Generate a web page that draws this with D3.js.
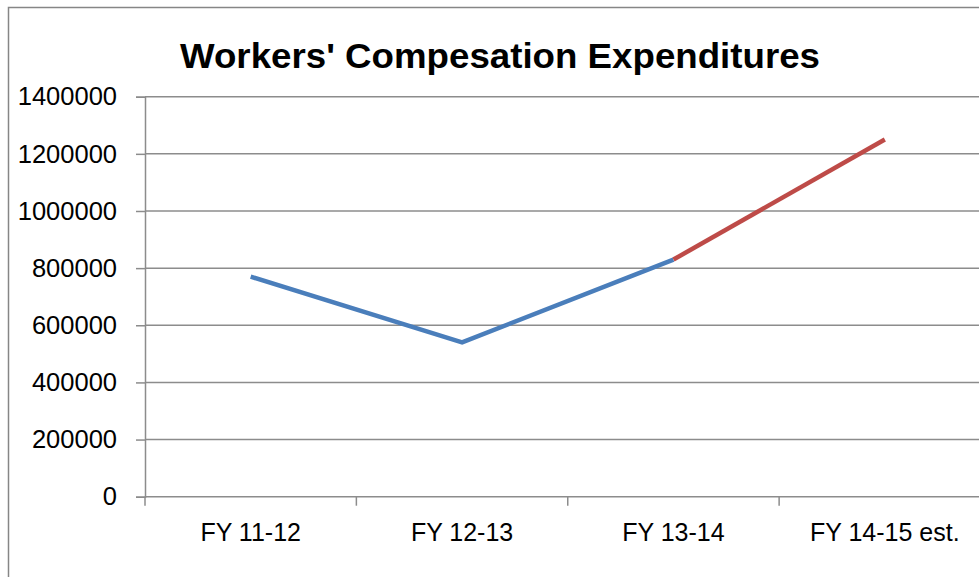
<!DOCTYPE html>
<html><head><meta charset="utf-8">
<script src="https://cdn.jsdelivr.net/npm/d3@7"></script>
<style>body{margin:0;background:#fff}svg{display:block}</style>
</head><body>
<svg id="c" width="979" height="577"></svg>
<script>
const categories = ["FY 11-12", "FY 12-13", "FY 13-14", "FY 14-15 est."];
const actualValues = [770000, 540000, 830000, null];
const estimateValues = [null, null, 830000, 1250000];
const yTicks = [0, 200000, 400000, 600000, 800000, 1000000, 1200000, 1400000];
const titleText = "Workers' Compesation Expenditures";

(function () {
const svg = d3.select("#c");
const pLeft = 145, pRight = 990.5, pTop = 96.7, pBottom = 496.7;
const font = "'Liberation Sans', Arial, sans-serif";

svg.append("rect").attr("x", 8.5).attr("y", 7.5).attr("width", 1000).attr("height", 600)
  .attr("fill", "#fff").attr("stroke", "#868686").attr("stroke-width", 1.5);

const x = d3.scaleBand().domain(categories).range([pLeft, pRight]).padding(0);
const y = d3.scaleLinear().domain([0, 1400000]).range([pBottom, pTop]);

// gridlines
svg.append("g").selectAll("line").data(yTicks).join("line")
  .attr("x1", pLeft).attr("x2", pRight)
  .attr("y1", d => y(d)).attr("y2", d => y(d))
  .attr("stroke", "#8c8c8c").attr("stroke-width", 1.5);

// y axis
const ya = svg.append("g").attr("transform", `translate(${pLeft},0)`)
  .call(d3.axisLeft(y).tickValues(yTicks).tickSize(9).tickPadding(19).tickFormat(d3.format("d")));
ya.select(".domain").attr("stroke", "#8c8c8c").attr("stroke-width", 1.5);
ya.selectAll(".tick line").attr("stroke", "#8c8c8c").attr("stroke-width", 1.5);
ya.selectAll("text").attr("font-family", font).attr("font-size", 25.5).attr("fill", "#000");

// x axis
const xa = svg.append("g").attr("transform", `translate(0,${pBottom})`)
  .call(d3.axisBottom(x).tickSize(0).tickPadding(27));
xa.select(".domain").remove();
xa.selectAll("text").attr("font-family", font).attr("font-size", 25).attr("fill", "#000");
// category boundary ticks
const bounds = categories.map(c => x(c)).concat([x(categories[categories.length-1]) + x.bandwidth()]);
svg.append("g").selectAll("line").data(bounds).join("line")
  .attr("x1", d => d).attr("x2", d => d).attr("y1", pBottom).attr("y2", pBottom + 9)
  .attr("stroke", "#8c8c8c").attr("stroke-width", 1.5);

const cx = c => x(c) + x.bandwidth() / 2;
const line = d3.line().defined(d => d[1] != null).x(d => cx(d[0])).y(d => y(d[1]));

svg.append("path").datum(categories.map((c, i) => [c, actualValues[i]]))
  .attr("d", line).attr("fill", "none").attr("stroke", "#4a7ebb").attr("stroke-width", 4.5)
  .attr("stroke-linejoin", "round");
svg.append("path").datum(categories.map((c, i) => [c, estimateValues[i]]))
  .attr("d", line).attr("fill", "none").attr("stroke", "#be4b48").attr("stroke-width", 4.5)
  .attr("stroke-linejoin", "round");

svg.append("text").attr("x", 500).attr("y", 68).attr("text-anchor", "middle")
  .attr("font-family", font).attr("font-weight", "bold").attr("font-size", 35)
  .attr("textLength", 640).attr("lengthAdjust", "spacingAndGlyphs")
  .attr("fill", "#000").text(titleText);
})();
</script>
</body></html>
